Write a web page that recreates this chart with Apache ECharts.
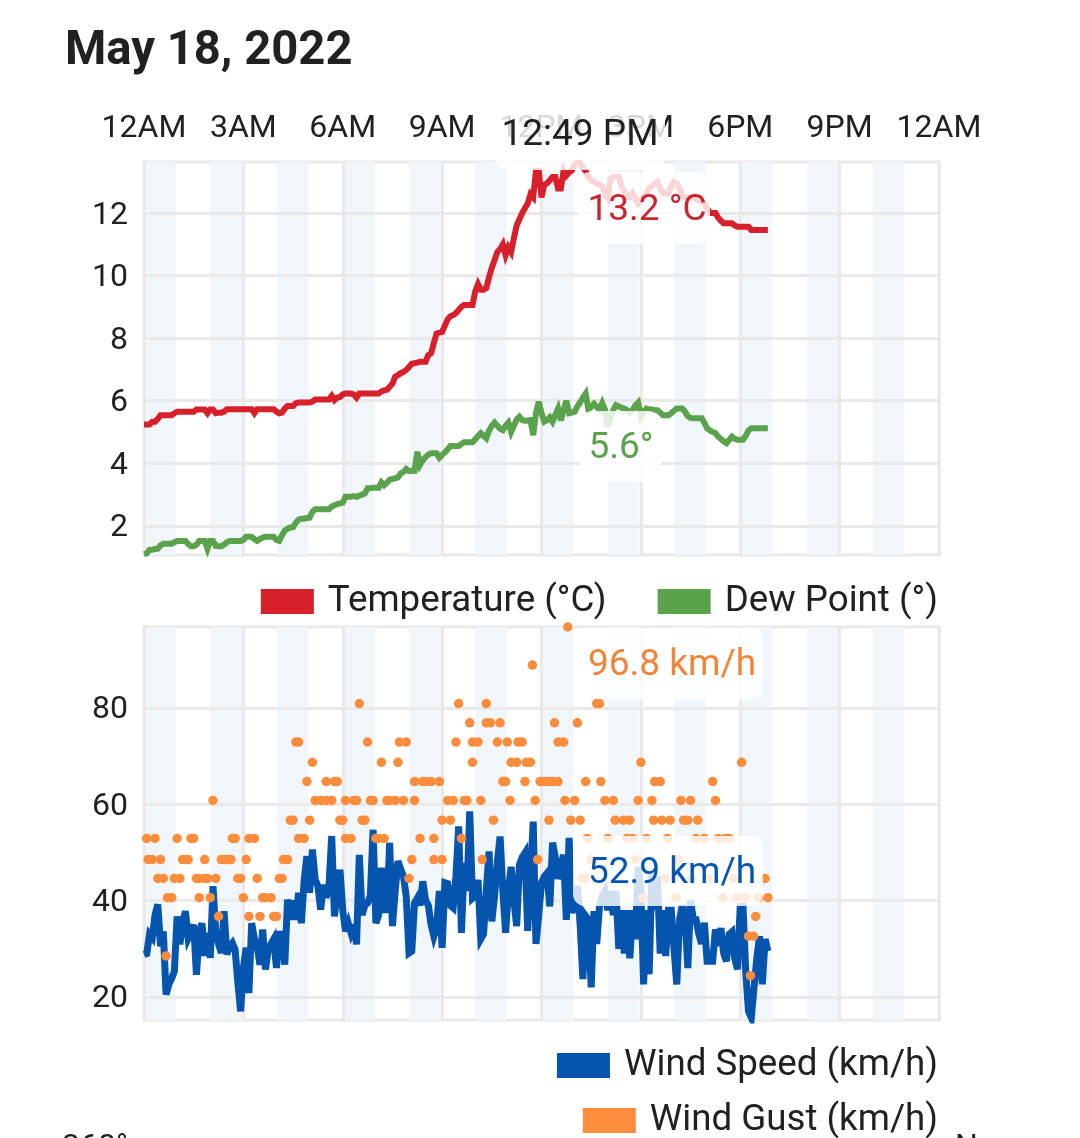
<!DOCTYPE html>
<html><head><meta charset="utf-8">
<style>html,body{margin:0;padding:0;background:#fff;overflow:hidden}#c{width:1080px;height:1138px}</style>
<script src="https://cdn.jsdelivr.net/npm/echarts@6/dist/echarts.min.js"></script></head>
<body><div id="c"></div>
<script>
// samples are 5 minutes apart, starting at midnight
const sampleMinutes = 5;
const hourTickLabels = ['12AM','3AM','6AM','9AM','12PM','3PM','6PM','9PM','12AM'];
const tempTicks = [2,4,6,8,10,12];
const windTicks = [20,40,60,80];
const bandStartHours = [0,2,4,6,8,10,12,14,16,18,20,22];

const temperature = [5.24,5.24,5.24,5.33,5.33,5.42,5.54,5.54,5.54,5.54,5.54,5.6,5.65,5.65,5.65,5.65,5.65,5.65,5.65,5.72,
5.72,5.72,5.72,5.6,5.72,5.72,5.6,5.62,5.62,5.65,5.73,5.73,5.73,5.73,5.73,5.73,5.73,5.73,5.73,5.73,
5.6,5.73,5.73,5.73,5.73,5.73,5.73,5.73,5.65,5.6,5.62,5.75,5.83,5.83,5.83,5.92,5.94,5.94,5.94,5.94,
5.94,5.97,6.04,6.04,6.04,6.04,6.04,6.04,6.16,6.02,6.1,6.12,6.2,6.23,6.23,6.23,6.2,6.1,6.23,6.23,
6.23,6.23,6.23,6.23,6.23,6.23,6.3,6.33,6.35,6.45,6.55,6.77,6.82,6.88,6.92,6.98,7.08,7.18,7.2,7.22,
7.25,7.25,7.25,7.46,7.52,7.85,8.15,8.18,8.2,8.4,8.6,8.7,8.74,8.8,8.9,9,9.06,9.06,9.06,9.06,
9.5,9.73,9.55,9.55,9.6,9.95,10.25,10.5,10.75,10.85,11,10.65,10.9,10.75,11.2,11.6,11.8,12,12.15,12.3,
12.6,12.5,13.36,13.36,12.5,12.9,12.95,13.05,13.15,13.15,12.78,12.78,13.36,13.2,13.3,13.36,13.55,13.6,13.6,13.45,
13.35,13.15,13.05,13,12.95,12.9,12.85,12.6,12.47,13.1,13.16,13.16,13.16,12.85,12.7,12.52,12.5,12.63,12.45,12.3,
12.4,12.5,12.6,12.8,12.85,12.95,13,12.8,12.63,12.63,12.63,12.85,13,12.95,12.8,12.55,12.5,12.5,12.5,12.48,
12.45,12.4,12.35,12.3,12.15,12,12,12,11.85,11.75,11.67,11.67,11.67,11.67,11.6,11.56,11.56,11.56,11.56,11.56,
11.46,11.46,11.46,11.46,11.46,11.46,11.46];

const dewPoint = [1.1,1.12,1.24,1.24,1.26,1.27,1.38,1.43,1.43,1.43,1.43,1.48,1.52,1.52,1.52,1.52,1.42,1.35,1.35,1.4,
1.52,1.52,1.52,1.27,1.52,1.52,1.36,1.35,1.35,1.4,1.48,1.52,1.52,1.52,1.52,1.52,1.55,1.65,1.65,1.65,
1.58,1.52,1.58,1.63,1.65,1.65,1.65,1.65,1.55,1.52,1.7,1.85,1.91,1.95,1.96,2.1,2.2,2.23,2.23,2.25,
2.26,2.45,2.53,2.53,2.53,2.53,2.53,2.53,2.62,2.66,2.7,2.72,2.74,2.93,2.93,2.93,2.95,2.93,2.97,3,
3.03,3.2,3.2,3.22,3.22,3.22,3.39,3.3,3.38,3.48,3.5,3.52,3.55,3.68,3.72,3.82,3.75,3.76,3.76,4.37,
3.95,4.1,4.2,4.28,4.32,4.32,4.32,4.18,4.27,4.35,4.45,4.55,4.55,4.55,4.55,4.62,4.67,4.67,4.67,4.67,
4.77,4.87,4.96,4.88,4.8,5.05,5.2,5.3,5.2,5.1,5.06,5.2,5.3,5,5.2,5.4,5.49,5.38,5.36,5.37,
5.38,4.9,5.6,5.97,5.6,5.33,5.38,5.47,5.33,5.55,5.75,5.37,5.7,6,5.6,5.62,5.65,5.82,5.95,6.1,
6.23,5.72,5.8,5.9,5.8,5.72,5.93,5.72,5.17,5.45,5.7,5.86,5.82,5.78,5.75,5.7,5.62,5.7,5.85,5.94,
5.5,5.65,5.75,5.73,5.72,5.7,5.7,5.62,5.54,5.54,5.54,5.6,5.68,5.75,5.75,5.75,5.65,5.5,5.45,5.44,
5.44,5.44,5.44,5.3,5.12,5.05,5,4.97,4.85,4.78,4.7,4.64,4.75,4.85,4.78,4.75,4.75,4.75,4.88,5.05,
5.12,5.12,5.12,5.12,5.12,5.12,5.12];

const windSpeed = [28.8,29,33,32.3,37,39.2,30.5,33.6,20.5,22.6,23.8,25.3,36.7,30.9,35,37.8,32.2,33.5,35,24.6,
33,35.3,28.5,33.3,28.1,43,33.3,31,29.1,37.8,28.8,30.5,31.2,29.8,23,17,26,30.2,20.8,35.3,
32,30.5,26.7,34,25.7,29.8,31,32,26,33,33,26.7,40.2,36,40,36,41.6,35.3,44,49.2,
41.6,50.6,44.4,43,38.1,43.3,40.6,43,53.4,36.7,42,46.4,38,33.6,35.3,33.3,35,30.9,49.5,37,
39,39.5,41,54.7,35.3,37,46.8,38.1,38.1,52,34.7,42,48.2,46.5,45,40.9,29.1,29.5,39.5,40.5,
39,44,40,39,35,32.6,34.5,42,30.2,43.7,43.5,39,38.5,45,55.4,33.3,47.8,42,58.5,40.5,
41,44.3,32,33,42,50.2,35.7,41,48,53.3,42,33.3,42,47,40,34.7,47.4,49,49.9,33.7,
45,56.4,31,37,43.7,45,45.7,38.8,52,49,44.5,47,49.5,36,53,37.4,40,43,35,23.7,
36.8,36,22,37.8,31,38.8,41,42,38,42,37,42,30,38,29,38,28,38,32,47,
42,22.6,38,24.7,46,38,45,29,38,28.5,38,38,30,22.6,36,39,37,26,40,36,
36,33,31,35.4,27.4,27.4,27.4,34,30.6,34.3,29,27.4,33,33.5,28,25.7,38.8,38.8,25,17,
15.7,22,28,32.6,22.6,32,29.5];

// gust readings fall on fixed levels; each level lists the sample numbers where it occurs
const gustLevels = [96.8,88.9,80.9,76.9,72.9,68.7,64.7,60.8,56.7,52.9,48.5,44.6,40.6,36.7,32.6,28.5,24.4];
const gustSamples = [
 [153.5],
 [140.7],
 [78,114,124,164,165],
 [118,124,125.5,129,148.7,157],
 [55,56,81,92.5,95,113,119,121,128,131.6,135.5,137,150,152],
 [61,86,92,119,133,135,138.5,140,180,216.5],
 [59,66,69,70,98,101,102,104,107,130,131,138,143.5,145,146.5,148,150,160,165.5,185,187,206],
 [25,62,64,66,68,73,76,77,82,83,88,89,91,94,98,110,112,116,117,122,132.6,141.7,152.5,156,167,170,179,184,194.5,198,207],
 [53,54,60,71,72,79,80,108,111,126.6,146.7,154.6,158,170.7,173.7,176,184.6,187.6,190.6,195.5,197,200.6],
 [1,4,12,17,18,32,33,38,40,56,58,73,75,84,85,87,100,105,115,160.6,168,175,177,182,189.6,200,203,208,210.5,212],
 [1.5,3,6,14,15,16,22,28,29,30,31.5,37,50.5,52,97,105,108,122.5,142.6,162,178,193.6],
 [5,7,11,13,19,20,22,23,26,34,35,41,49,50,96,158.6,160,189,198.5,204.5,213.5,225],
 [8.5,10,20,24,36,43,44,46,180.7,192.7,209.7,214.7,217.8,222.6,226],
 [27,38,42,47,48,221.6],
 [219,220.8],
 [8],
 [219.7]
];
const tooltipTime = '12:49 PM';
const tooltipTemp = '13.2 °C';
const tooltipDew = '5.6°';
const tooltipGust = '96.8 km/h';
const tooltipSpeed = '52.9 km/h';

const FONT = 'Roboto, sans-serif';
const INK = '#212121', GRID = '#e9e9e9', BAND = '#f1f6fb';
const RED = '#d7202b', GREEN = '#5aa24b', BLUE = '#0554ae', ORANGE = '#fd8d3c';

const toHours = i => i * sampleMinutes / 60;
const toSeries = arr => arr.map((v, i) => [toHours(i), v]);
const gustData = [];
gustLevels.forEach((lv, k) => gustSamples[k].forEach(i => gustData.push([toHours(i), lv])));

const bands = bandStartHours.map(h => [{xAxis: h + (h === 0 ? 0.08 : 0.01)}, {xAxis: h + 0.96}]);

function xAxis(gridIndex, showLabels) {
  return {
    type: 'value', gridIndex, min: 0, max: 24, interval: 3, position: 'top', z: 2,
    axisLine: {show: false}, axisTick: {show: false},
    splitLine: {show: true, lineStyle: {color: GRID, width: 3}},
    axisLabel: {
      show: showLabels, color: INK, fontFamily: FONT, fontSize: 32, margin: 17,
      hideOverlap: false, showMinLabel: true, showMaxLabel: true,
      formatter: v => hourTickLabels[Math.round(v / 3)]
    }
  };
}
function yAxis(gridIndex, min, max, ticks) {
  return {
    type: 'value', gridIndex, min, max, z: 2,
    axisLine: {show: false},
    axisTick: {show: false, customValues: ticks},
    splitLine: {show: true, lineStyle: {color: GRID, width: 3}},
    axisLabel: {color: INK, fontFamily: FONT, fontSize: 32, margin: 16, verticalAlign: 'top', lineHeight: 5, customValues: ticks}
  };
}
function bandSeries(ax) {
  return {
    type: 'line', name: 'bands' + ax, xAxisIndex: ax, yAxisIndex: ax, data: [], z: 1, silent: true,
    markArea: {silent: true, itemStyle: {color: BAND}, data: bands}
  };
}
function lineSeries(name, ax, values, color, width) {
  return {
    type: 'line', name, xAxisIndex: ax, yAxisIndex: ax, data: toSeries(values), z: 3,
    showSymbol: false, symbol: 'none', animation: false, clip: true,
    lineStyle: {color, width, join: 'miter', miterLimit: 4}, itemStyle: {color}
  };
}
function legend(names, top) {
  return {
    data: names, right: 137, top, orient: 'horizontal', icon: 'rect', selectedMode: false,
    itemWidth: 53, itemHeight: 25, itemGap: 51,
    textStyle: {color: INK, fontFamily: FONT, fontSize: 36.7, padding: [0, 0, 0, 9]}
  };
}
function box(x, y, width, height) {
  return {type: 'rect', z: 50, shape: {x, y, width, height, r: 12}, style: {fill: 'rgba(255,255,255,0.82)'}, silent: true};
}
function note(text, x, y, fill) {
  return {type: 'text', z: 51, x, y, silent: true,
    style: {text, fill, font: '37px ' + FONT, align: 'center', verticalAlign: 'middle'}};
}

const chart = echarts.init(document.getElementById('c'), null, {renderer: 'canvas'});
chart.setOption({
  animation: false,
  backgroundColor: '#fff',
  title: {text: 'May 18, 2022', left: 60, top: 24, textStyle: {color: INK, fontFamily: FONT, fontSize: 47.2, fontWeight: 700}},
  grid: [
    {left: 144, width: 795, top: 162, height: 393, show: true, borderColor: GRID, borderWidth: 3, backgroundColor: 'transparent'},
    {left: 144, width: 795, top: 627, height: 393, show: true, borderColor: GRID, borderWidth: 3, backgroundColor: 'transparent'}
  ],
  xAxis: [xAxis(0, true), xAxis(1, false)],
  yAxis: [yAxis(0, 1.07, 13.63, tempTicks), yAxis(1, 15.2, 96.8, windTicks)],
  legend: [
    legend(['Temperature (°C)', 'Dew Point (°)'], 578),
    legend(['Wind Speed (km/h)'], 1042),
    legend(['Wind Gust (km/h)'], 1097)
  ],
  series: [
    bandSeries(0), bandSeries(1),
    lineSeries('Temperature (°C)', 0, temperature, RED, 6),
    lineSeries('Dew Point (°)', 0, dewPoint, GREEN, 6),
    lineSeries('Wind Speed (km/h)', 1, windSpeed, BLUE, 7),
    {type: 'scatter', name: 'Wind Gust (km/h)', xAxisIndex: 1, yAxisIndex: 1, data: gustData,
     symbolSize: 9.5, clip: false, z: 4, itemStyle: {color: ORANGE, opacity: 1}}
  ],
  graphic: {elements: [
    box(495, 100, 170, 70), note(tooltipTime, 580, 136, INK),
    box(578, 172, 132, 72), note(tooltipTemp, 647, 211, '#c9252f'),
    box(580, 411, 81, 71), note(tooltipDew, 621, 449, GREEN),
    box(573, 628, 190, 71), note(tooltipGust, 672, 666, '#f0853a'),
    box(573, 836, 190, 70), note(tooltipSpeed, 672, 874, BLUE),
    {type: 'text', z: 51, x: 62, y: 1132, silent: true, style: {text: '360°', fill: INK, font: '32px ' + FONT, align: 'left', verticalAlign: 'top'}},
    {type: 'text', z: 51, x: 955, y: 1132, silent: true, style: {text: 'N', fill: INK, font: '32px ' + FONT, align: 'left', verticalAlign: 'top'}}
  ]}
});
</script></body></html>
